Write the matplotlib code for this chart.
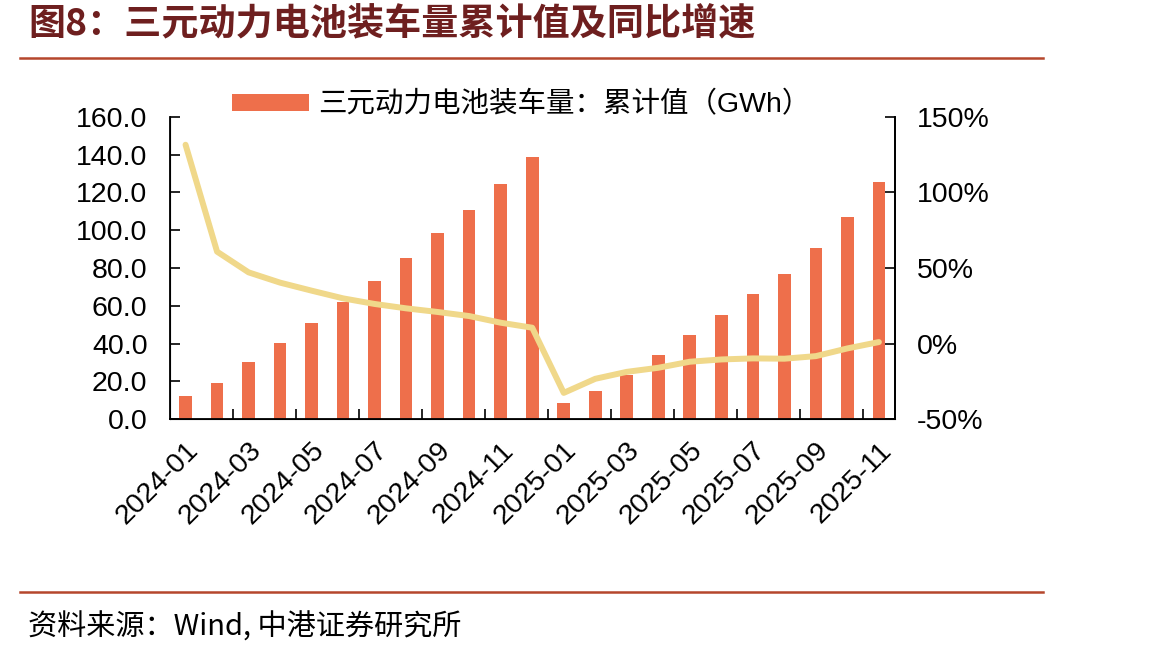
import numpy as np
import matplotlib
matplotlib.use('Agg')
import matplotlib.pyplot as plt
from matplotlib.lines import Line2D

plt.rcParams['font.family'] = ['Liberation Sans', 'Noto Sans CJK SC', 'DejaVu Sans']

# 数据
months = ['2024-01', '2024-02', '2024-03', '2024-04', '2024-05', '2024-06',
          '2024-07', '2024-08', '2024-09', '2024-10', '2024-11', '2024-12',
          '2025-01', '2025-02', '2025-03', '2025-04', '2025-05', '2025-06',
          '2025-07', '2025-08', '2025-09', '2025-10', '2025-11']
cum_gwh = [12.2, 19.1, 30.4, 40.1, 50.9, 61.8, 73.1, 85.3, 98.4, 110.6, 124.3, 138.6,
           8.3, 14.7, 23.3, 33.9, 44.3, 55.1, 66.0, 76.8, 90.6, 107.0, 125.4]
yoy_pct = [131.5, 60.8, 47.1, 40.3, 35.0, 29.9, 26.2, 23.3, 20.9, 18.2, 13.8, 10.5,
           -32.6, -23.3, -18.7, -16.0, -12.0, -10.5, -9.8, -10.0, -8.3, -3.2, 1.0]
left_ticks = [0, 20, 40, 60, 80, 100, 120, 140, 160]
right_ticks = [-50, 0, 50, 100, 150]

bar_color = '#EE6F4B'
line_color = '#F0D88A'
fs = 20.5

fig = plt.figure(figsize=(11.71, 6.56), dpi=100)
ax1 = fig.add_axes([0.145, 0.361, 0.619, 0.461])

x = np.arange(len(months))
ax1.bar(x, cum_gwh, width=0.4, color=bar_color, zorder=2)
ax1.set_xlim(-0.5, len(months) - 0.5)
ax1.set_ylim(0, 160)
ax1.set_yticks(left_ticks)
ax1.set_yticklabels([f'{v:.1f}' for v in left_ticks], fontsize=fs)

# x 轴：标签在奇数月，刻度在两组之间
ax1.set_xticks(x[::2])
ax1.set_xticklabels(months[::2], rotation=45, ha='right', rotation_mode='anchor', fontsize=fs)
ax1.tick_params(axis='x', which='major', length=0, pad=13)
ax1.set_xticks(np.arange(1.5, len(months) - 1, 2), minor=True)
ax1.tick_params(axis='x', which='minor', direction='in', length=7, width=1.2)
ax1.tick_params(axis='y', direction='in', length=7, width=1.2, pad=16)
ax1.spines['top'].set_visible(False)
for s in ['left', 'bottom', 'right']:
    ax1.spines[s].set_linewidth(1.3)

ax2 = ax1.twinx()
ax2.plot(x, yoy_pct, color=line_color, linewidth=4.3, solid_capstyle='round', zorder=3)
ax2.set_ylim(-50, 150)
ax2.set_yticks(right_ticks)
ax2.set_yticklabels([f'{v}%' for v in right_ticks], fontsize=fs)
ax2.tick_params(axis='y', direction='in', length=7, width=1.2, pad=16)
ax2.spines['top'].set_visible(False)
ax2.spines['right'].set_linewidth(1.3)

# 图例（只有柱）
ax1.legend(['三元动力电池装车量：累计值（GWh）'], loc='center', bbox_to_anchor=(0.485, 1.04),
           frameon=False, fontsize=20.5, handlelength=2.7, handleheight=0.55, handletextpad=0.35,
           borderpad=0, borderaxespad=0)

# 标题与分隔线
fig.text(0.024, 0.962, '图8：三元动力电池装车量累计值及同比增速', fontsize=26.7, fontweight='bold',
         color='#6E1F1F', va='center', ha='left', family=['Noto Sans CJK SC', 'DejaVu Sans'])
fig.add_artist(Line2D([0.017, 0.891], [0.912, 0.912], color='#B5472C', linewidth=1.8))
fig.add_artist(Line2D([0.017, 0.891], [0.098, 0.098], color='#B5472C', linewidth=1.8))
fig.text(0.024, 0.044, '资料来源：Wind, 中港证券研究所', fontsize=21, style='italic',
         va='center', ha='left', family=['Noto Sans CJK SC', 'DejaVu Sans'])

fig.savefig('out.png', dpi=100)
plt.close(fig)
